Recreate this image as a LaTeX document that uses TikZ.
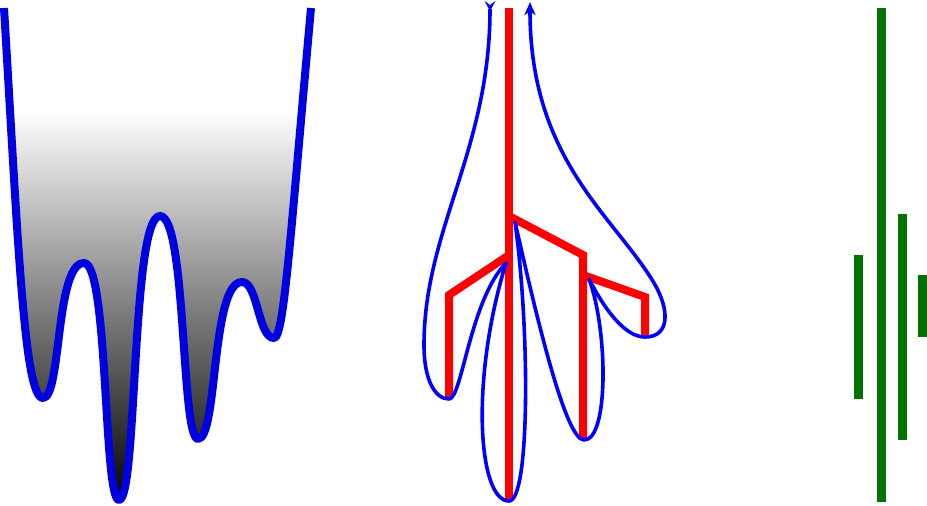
\documentclass[tikz,border=0pt]{standalone}
\usetikzlibrary{arrows.meta}
\definecolor{curveblue}{RGB}{0,0,225}
\definecolor{loopblue}{RGB}{0,0,255}
\definecolor{treered}{RGB}{255,0,0}
\definecolor{bargreen}{RGB}{0,115,0}
\tikzset{
  landline/.style={draw=curveblue, line width=8pt, line cap=butt, line join=round},
  treeline/.style={draw=treered, line width=8pt, line cap=butt, line join=miter},
  contour/.style={draw=loopblue, line width=3.6pt, line join=round,
    {Stealth[reversed,length=10pt,width=11pt,inset=4pt]}-{Stealth[length=13pt,width=11pt,inset=3.5pt]}},
  greenbar/.style={draw=bargreen, line width=9pt, line cap=butt}
}
\begin{document}
\begin{tikzpicture}[x=1pt,y=-1pt]
\useasboundingbox (0,0) rectangle (927,506);
% ---------- left: landscape ----------
\begin{scope}
\clip (4,8) .. controls (18,240) and (24,398) .. (43,398)
  .. controls (61.5,398) and (55.3,263) .. (84,263)
  .. controls (108.5,263) and (103.3,500) .. (119,500)
  .. controls (137.5,500) and (131.3,216) .. (160,216)
  .. controls (186.6,216) and (180.9,439) .. (198,439)
  .. controls (217.8,439) and (211.2,282) .. (242,282)
  .. controls (258,282) and (258,338) .. (274,338)
  .. controls (284,338) and (290,240) .. (311,8) -- cycle;
\shade[top color=white, bottom color=black] (0,110) rectangle (320,506);
\end{scope}
\path[landline] (4,8) .. controls (18,240) and (24,398) .. (43,398)
  .. controls (61.5,398) and (55.3,263) .. (84,263)
  .. controls (108.5,263) and (103.3,500) .. (119,500)
  .. controls (137.5,500) and (131.3,216) .. (160,216)
  .. controls (186.6,216) and (180.9,439) .. (198,439)
  .. controls (217.8,439) and (211.2,282) .. (242,282)
  .. controls (258,282) and (258,338) .. (274,338)
  .. controls (284,338) and (290,240) .. (311,8);
% ---------- middle: tree ----------
\coordinate (trunkTop) at (509,8);
\coordinate (trunkBot) at (509,500);
\coordinate (jL) at (509,255);
\coordinate (cL) at (449,295);
\coordinate (eL) at (449,398);
\coordinate (jR) at (509,216);
\coordinate (cR) at (583,255);
\coordinate (eR) at (583,438);
\coordinate (jS) at (583,275);
\coordinate (cS) at (645,297);
\coordinate (eS) at (645,336);
\path[treeline] (trunkTop) -- (trunkBot);
\path[treeline] (jL) -- (cL) -- (eL);
\path[treeline] (jR) -- (cR) -- (eR);
\path[treeline] (jS) -- (cS) -- (eS);
\path[contour] (490,1) .. controls (490,150) and (424,230) .. (424,345)
  .. controls (424,380) and (435,399) .. (449,399)
  .. controls (462,399) and (470,300) .. (506,263)
  .. controls (470,380) and (478,501) .. (509,501)
  .. controls (530,501) and (530,330) .. (515,222)
  .. controls (535,310) and (565,440) .. (584,440)
  .. controls (609,440) and (608,330) .. (589,279)
  .. controls (605,310) and (625,337) .. (645,337)
  .. controls (670,337) and (670,310) .. (654,283)
  .. controls (614,216) and (530,160) .. (530,2);
% ---------- right: bars ----------
\path[greenbar] (881,8) -- (881,502);
\path[greenbar] (858.5,255) -- (858.5,399);
\path[greenbar] (902,214) -- (902,440);
\path[greenbar] (922.5,275) -- (922.5,337);
\end{tikzpicture}
\end{document}
